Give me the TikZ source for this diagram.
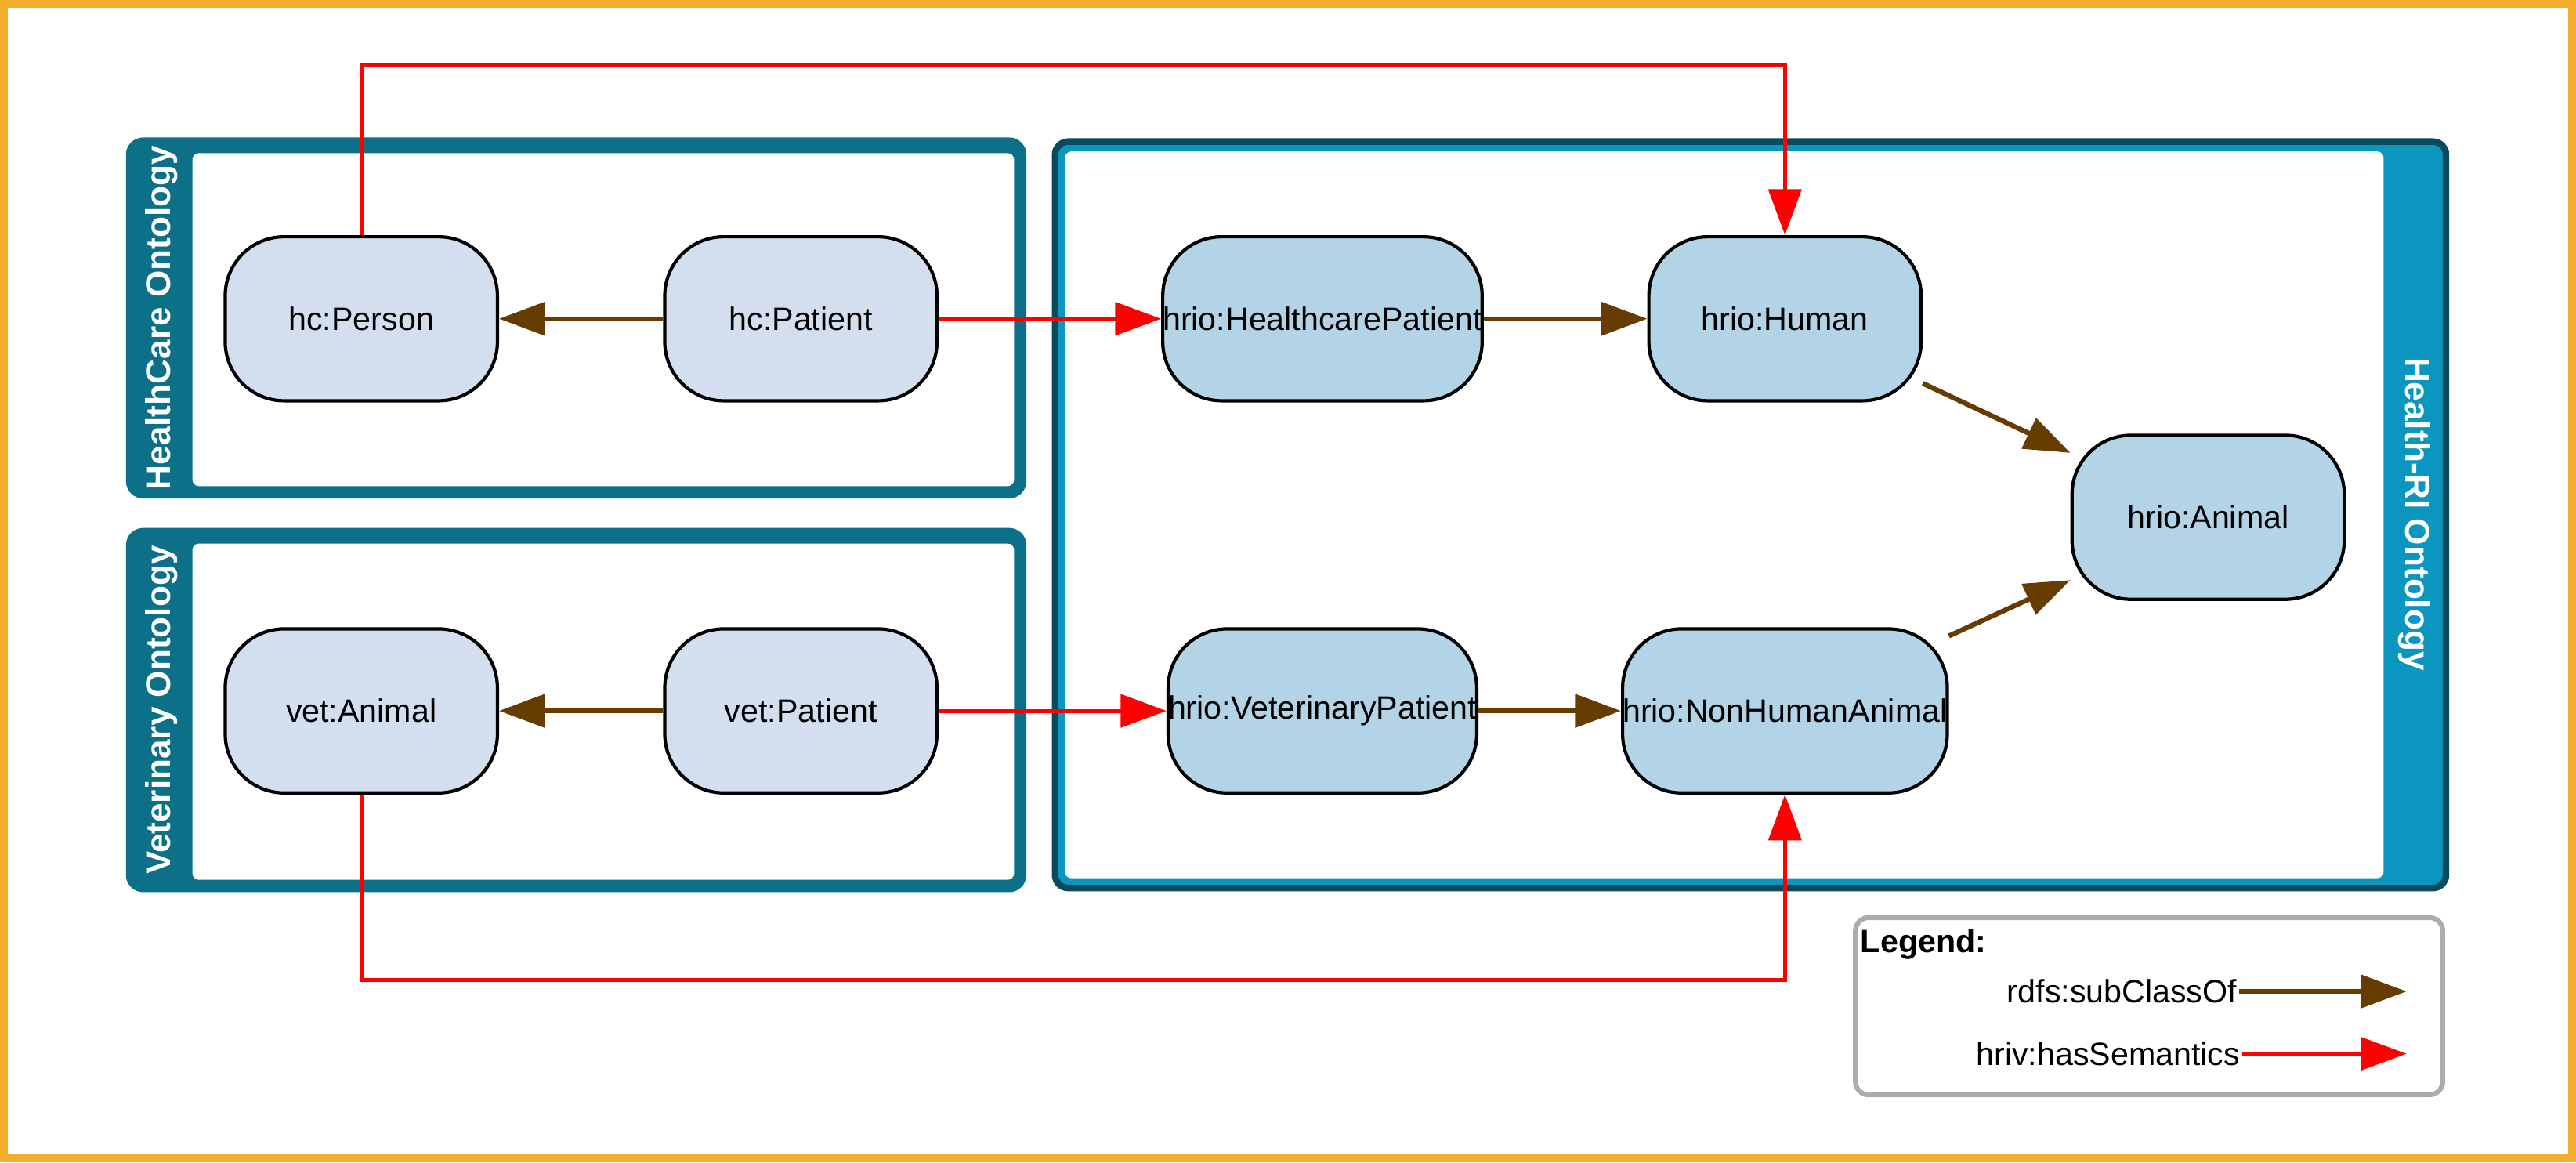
\documentclass[tikz,border=0pt]{standalone}
\usepackage{fontspec}
\setmainfont{Liberation Sans}
\usetikzlibrary{arrows.meta,positioning}
\definecolor{frame}{HTML}{F5AE2E}
\definecolor{teal}{HTML}{0C7089}
\definecolor{riblue}{HTML}{0A96BF}
\definecolor{ridark}{HTML}{0A4A5E}
\definecolor{hcfill}{HTML}{D3DFEE}
\definecolor{rifill}{HTML}{B3D4E6}
\definecolor{subbrown}{HTML}{663C00}
\tikzset{
  cls/.style={draw=black, line width=0.1cm, rounded corners=1.8cm, minimum width=8.3cm,
    minimum height=5cm, inner sep=0pt, font=\fontsize{28}{32}\selectfont},
  hc/.style={cls, fill=hcfill},
  ri/.style={cls, fill=rifill},
  sub/.style={draw=subbrown, line width=0.15cm, -{Triangle[length=1.4cm,width=1cm]}},
  sem/.style={draw=red, line width=0.12cm, -{Triangle[length=1.4cm,width=1cm]}},
  title/.style={text=white, font=\bfseries\fontsize{30}{34}\selectfont}
}
\begin{document}
\begin{tikzpicture}[x=0.05cm,y=-0.05cm]
  % outer frame
  \fill[white] (0,0) rectangle (1568,706);
  \draw[frame, line width=0.25cm] (1.2,1.2) rectangle (1566.8,704.8);
  \useasboundingbox (0,0) rectangle (1568,706);

  % HealthCare and Veterinary ontology boxes
  \foreach \yt/\yb/\name in {85/300/HealthCare Ontology, 323/540/Veterinary Ontology} {
    \draw[teal, fill=teal, line width=0.25cm, rounded corners=0.4cm] (78,\yt) rectangle (622,\yb);
    \fill[white, rounded corners=0.2cm] (116,\yt+7) rectangle (617,\yb-5);
    \node[title, rotate=90] at (97,{(\yt+\yb)/2}) {\name};
  }

  % Health-RI ontology box
  \draw[ridark, fill=riblue, line width=0.2cm, rounded corners=0.4cm] (642,85) rectangle (1490,540);
  \fill[white, rounded corners=0.2cm] (648,91) rectangle (1452,534);
  \node[title, rotate=-90] at (1471,312) {Health-RI Ontology};

  % classes
  \node[hc] (hcper) at (219,193) {hc:Person};
  \node[hc] (hcpat) at (487,193) {hc:Patient};
  \node[ri] (hcp) at (805,193) {hrio:HealthcarePatient};
  \node[ri] (human) at (1087,193) {hrio:Human};
  \node[ri] (animal) at (1345,314) {hrio:Animal};
  \node[hc] (vetani) at (219,432) {vet:Animal};
  \node[hc] (vetpat) at (487,432) {vet:Patient};
  \node[ri] (vp) at (805,432) {hrio:VeterinaryPatient};
  \node[ri] (nonhuman) at (1087,432) {hrio:NonHumanAnimal};

  % subclass links
  \draw[sub] (hcpat) -- (hcper);
  \draw[sub] (vetpat) -- (vetani);
  \draw[sub] (hcp) -- (human);
  \draw[sub] (vp) -- (nonhuman);
  \draw[sub] (human) -- (animal);
  \draw[sub] (nonhuman) -- (animal);

  % semantics links
  \coordinate (top) at (600,38);
  \coordinate (bot) at (600,596);
  \draw[sem] (hcpat) -- (hcp);
  \draw[sem] (vetpat) -- (vp);
  \draw[sem] (hcper.north) |- (top) -| (human.north);
  \draw[sem] (vetani.south) |- (bot) -| (nonhuman.south);

  % legend
  \draw[gray!65, line width=0.15cm, rounded corners=0.4cm] (1130,558) rectangle (1488,666);
  \node[anchor=north west, font=\bfseries\fontsize{28}{32}\selectfont, inner sep=0pt] (leg) at (1133,565) {Legend:};
  \node[anchor=east, font=\fontsize{28}{32}\selectfont, inner sep=2pt] (lsub) at (1364,603) {rdfs:subClassOf};
  \node[anchor=east, font=\fontsize{28}{32}\selectfont, inner sep=2pt] (lsem) at (1366,641) {hriv:hasSemantics};
  \coordinate (lsubend) at (1466,603);
  \coordinate (lsemend) at (1466,641);
  \draw[sub] (lsub.east) -- (lsubend);
  \draw[sem] (lsem.east) -- (lsemend);
\end{tikzpicture}
\end{document}
